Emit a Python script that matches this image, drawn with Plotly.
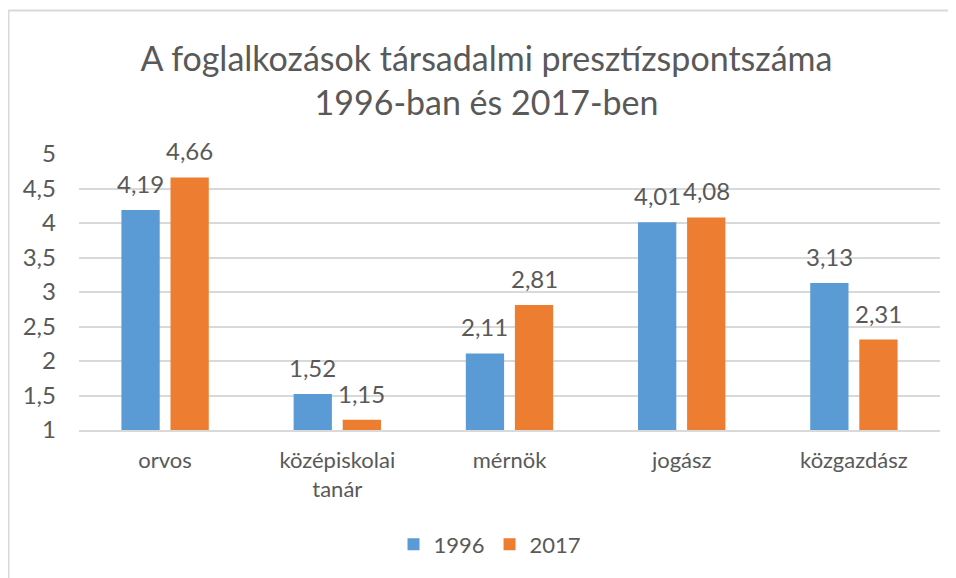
import plotly.graph_objects as go

categories = ["orvos", "középiskolai<br>tanár", "mérnök", "jogász", "közgazdász"]
values_1996 = [4.19, 1.52, 2.11, 4.01, 3.13]
values_2017 = [4.66, 1.15, 2.81, 4.08, 2.31]
series_names = ["1996", "2017"]
tick_vals = [1, 1.5, 2, 2.5, 3, 3.5, 4, 4.5, 5]
tick_text = ["1", "1,5", "2", "2,5", "3", "3,5", "4", "4,5", "5"]

FONT = "Lato, Carlito, Calibri, sans-serif"
TXT = "#595959"
COLORS = ["#5B9BD5", "#ED7D31"]
BARGAP = 0.43

def fmt(v):
    return f"{v:.2f}".replace(".", ",")

# page body has an 8px margin: figure drawn from (8,8)
W, H = 948, 570
L, R, T, B = 71, 16, 146, 144
pw = W - L - R
ph = H - T - B

fig = go.Figure()
for name, vals, col in zip(series_names, [values_1996, values_2017], COLORS):
    fig.add_trace(go.Bar(
        x=list(range(len(categories))), y=vals, name=name,
        marker=dict(color=col, line=dict(width=0)),
    ))

# data labels above each bar
slot = (1 - BARGAP) / 2
for k, vals in enumerate([values_1996, values_2017]):
    off = (k - 0.5) * slot
    for i, v in enumerate(vals):
        fig.add_annotation(x=i + off, y=v, text=fmt(v), showarrow=False,
                           xref="x", yref="y", yanchor="bottom", yshift=10,
                           font=dict(family=FONT, size=24, color=TXT))

def px_x(p):
    return (p - L) / pw

def px_y(p):
    return 1 - (p - T) / ph

fig.update_layout(
    width=W, height=H,
    margin=dict(l=L, r=R, t=T, b=B),
    paper_bgcolor="white", plot_bgcolor="white",
    barmode="group", bargap=BARGAP, bargroupgap=0.22,
    title=dict(
        text="A foglalkozások társadalmi presztízspontszáma<br>1996-ban és 2017-ben",
        x=478.5 / W, xanchor="center", xref="container", y=1 - 63 / H, yanchor="middle",
        yref="container",
        font=dict(family=FONT, size=34, color=TXT),
    ),
    font=dict(family=FONT, size=22, color=TXT),
    legend=dict(
        orientation="h", x=px_x(482), xanchor="center",
        y=px_y(542), yanchor="middle",
        font=dict(family=FONT, size=22, color=TXT),
        itemwidth=30,
    ),
    showlegend=True,
)
fig.update_yaxes(
    range=[1, 5], tickvals=tick_vals, ticktext=tick_text,
    showgrid=True, gridcolor="#D9D9D9", gridwidth=1.5,
    zeroline=False, showline=False, ticks="",
    ticklabelstandoff=22,
    tickfont=dict(family=FONT, size=24, color=TXT),
)
fig.update_xaxes(
    range=[-0.5, len(categories) - 0.5],
    tickvals=list(range(len(categories))), ticktext=categories,
    showline=True, linecolor="#D9D9D9", linewidth=1.5,
    showgrid=False, zeroline=False,
    ticks="", ticklabelstandoff=10,
    tickfont=dict(family=FONT, size=22, color=TXT),
)

# chart frame (left and top edges visible)
fig.add_shape(type="line", xref="paper", yref="paper", x0=px_x(0.5), x1=px_x(0.5), y0=px_y(0), y1=px_y(H + 10),
              line=dict(color="#D9D9D9", width=2))
fig.add_shape(type="line", xref="paper", yref="paper", x0=px_x(0), x1=px_x(W + 10), y0=px_y(0.5), y1=px_y(0.5),
              line=dict(color="#D9D9D9", width=2))

fig.write_html("out.html")
